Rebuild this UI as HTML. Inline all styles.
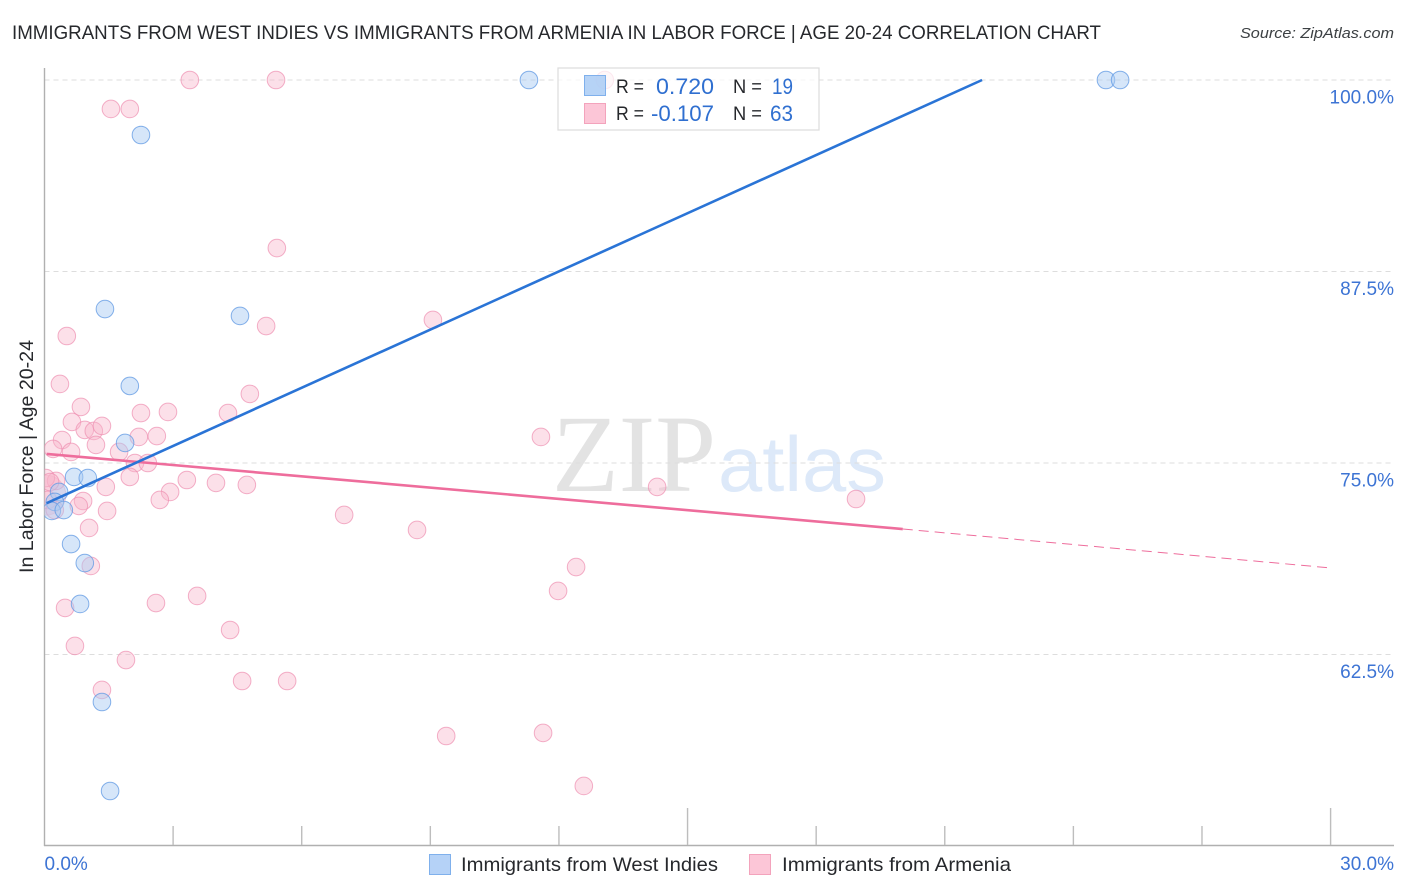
<!DOCTYPE html>
<html lang="en">
<head>
<meta charset="utf-8">
<title>Immigrants from West Indies vs Immigrants from Armenia Correlation Chart</title>
<style>
html,body{margin:0;padding:0;background:#fff;width:1406px;height:892px;overflow:hidden}
svg{display:block;font-family:"Liberation Sans",sans-serif}
</style>
</head>
<body>
<svg id="chart" width="1406" height="892" viewBox="0 0 1406 892" xmlns="http://www.w3.org/2000/svg">
<defs><clipPath id="plot-clip"><rect x="44.5" y="60" width="1350" height="785"/></clipPath></defs>
<text x="12" y="39" font-size="19" fill="#26282c" textLength="1089" lengthAdjust="spacingAndGlyphs">IMMIGRANTS FROM WEST INDIES VS IMMIGRANTS FROM ARMENIA IN LABOR FORCE | AGE 20-24 CORRELATION CHART</text>
<text x="1394" y="38" font-size="15" font-style="italic" fill="#3c4043" text-anchor="end" textLength="154" lengthAdjust="spacingAndGlyphs">Source: ZipAtlas.com</text>
<text x="552" y="491" font-family="'Liberation Serif',serif" font-size="110" fill="#e3e3e3" textLength="164" lengthAdjust="spacingAndGlyphs">ZIP</text>
<text x="718" y="491" font-size="78" fill="#dde9f9" textLength="168" lengthAdjust="spacingAndGlyphs">atlas</text>
<g id="grid"></g>
<g id="axes"></g>
<g id="pink-points" clip-path="url(#plot-clip)"></g>
<g id="blue-points" clip-path="url(#plot-clip)"></g>
<g id="trends"></g>
<text transform="translate(33,573) rotate(-90)" font-size="19" fill="#26282c" textLength="233" lengthAdjust="spacingAndGlyphs">In Labor Force | Age 20-24</text>
<g>
<rect x="558" y="68" width="261" height="62" fill="#fff" fill-opacity="0.72" stroke="#dcdcdc" stroke-width="1.2"/>
<rect x="584.5" y="75.5" width="21" height="20" fill="#a9cbf5" fill-opacity="0.85" stroke="#7fb0ec" stroke-width="1"/>
<rect x="584.5" y="103.5" width="21" height="20" fill="#fcc6d7" stroke="#f3a3bc" stroke-width="1"/>
<text x="616" y="93" font-size="19" fill="#26282c" textLength="28" lengthAdjust="spacingAndGlyphs">R =</text>
<text x="656" y="94" font-size="22" fill="#2f6fd0" textLength="58" lengthAdjust="spacingAndGlyphs">0.720</text>
<text x="733" y="93" font-size="19" fill="#26282c" textLength="29" lengthAdjust="spacingAndGlyphs">N =</text>
<text x="772" y="94" font-size="22" fill="#2f6fd0" textLength="21" lengthAdjust="spacingAndGlyphs">19</text>
<text x="616" y="120" font-size="19" fill="#26282c" textLength="28" lengthAdjust="spacingAndGlyphs">R =</text>
<text x="651" y="121" font-size="22" fill="#2f6fd0" textLength="63" lengthAdjust="spacingAndGlyphs">-0.107</text>
<text x="733" y="120" font-size="19" fill="#26282c" textLength="29" lengthAdjust="spacingAndGlyphs">N =</text>
<text x="770" y="121" font-size="22" fill="#2f6fd0" textLength="23" lengthAdjust="spacingAndGlyphs">63</text>
</g>
<g>
<rect x="429.5" y="854.5" width="21" height="20" fill="#b5d2f7" stroke="#7fb0ec" stroke-width="1"/>
<text x="461" y="871" font-size="19.5" fill="#26282c" textLength="257" lengthAdjust="spacingAndGlyphs">Immigrants from West Indies</text>
<rect x="749.5" y="854.5" width="21" height="20" fill="#fcc6d7" stroke="#f3a3bc" stroke-width="1"/>
<text x="782" y="871" font-size="19.5" fill="#26282c" textLength="229" lengthAdjust="spacingAndGlyphs">Immigrants from Armenia</text>
</g>
</svg>
<script>
const yTickValues = [100, 87.5, 75, 62.5];
const yTickLabels = ["100.0%", "87.5%", "75.0%", "62.5%"];
const xTickValues = [0, 3, 6, 9, 12, 15, 18, 21, 24, 27, 30];
const xMajorTicks = [15, 30];
const xEndValues = [0, 30];
const xEndLabels = ["0.0%", "30.0%"];

const blueX = [11.30, 24.76, 25.09, 2.25, 1.41, 4.56, 1.99, 1.88, 0.69, 1.01, 0.34, 0.24, 0.17, 0.45, 0.62, 0.94, 0.83, 1.34, 1.53];
const blueY = [100, 100, 100, 96.41, 85.05, 84.60, 80.03, 76.31, 74.09, 74.02, 73.11, 72.46, 71.87, 71.93, 69.71, 68.47, 65.80, 59.40, 53.59];

const pinkX = [3.39, 5.40, 13.07, 1.55, 1.99, 5.42, 5.17, 9.06, 0.52, 0.36, 4.79, 0.85, 2.25, 2.88, 4.28, 0.64, 0.94, 1.15, 1.34, 0.41, 0.20, 0.62, 1.20, 1.74, 2.20, 2.62, 11.58, 2.11, 2.41, 1.99, 3.32, 1.43, 4.00, 4.72, 14.29, 2.93, 2.69, 18.93, 0.90, 0.80, 1.46, 6.99, 8.69, 1.04, 1.08, 12.40, 11.98, 3.56, 2.60, 0.48, 4.33, 0.71, 1.90, 1.34, 4.61, 5.66, 9.37, 11.63, 12.58, 0.27, 0.03, 0.13, 0.08, 0.24];
const pinkY = [100, 100, 100, 98.11, 98.11, 89.03, 83.94, 84.34, 83.29, 80.16, 79.51, 78.66, 78.26, 78.33, 78.26, 77.68, 77.16, 77.09, 77.42, 76.50, 75.92, 75.72, 76.18, 75.72, 76.70, 76.76, 76.70, 75.00, 75.00, 74.09, 73.89, 73.44, 73.70, 73.57, 73.44, 73.11, 72.59, 72.65, 72.52, 72.20, 71.87, 71.61, 70.63, 70.76, 68.28, 68.21, 66.65, 66.32, 65.86, 65.54, 64.10, 63.06, 62.14, 60.19, 60.77, 60.77, 57.18, 57.38, 53.92, 73.83, 74.02, 73.76, 72.59, 71.93];
const pinkLargeX = [0.03];
const pinkLargeY = [72.9];

const blueTrendX = [0.05, 21.87];
const blueTrendY = [72.38, 100];
const pinkTrendX = [0.05, 20.02];
const pinkTrendY = [75.59, 70.69];
const pinkForecastX = [20.02, 30];
const pinkForecastY = [70.69, 68.15];

const NS = 'http://www.w3.org/2000/svg';
const sx = v => 44.5 + v * 42.87;
const sy = v => 80 + (100 - v) * 15.32;
function make(parent, tag, attrs, text) {
  const el = document.createElementNS(NS, tag);
  for (const k in attrs) el.setAttribute(k, attrs[k]);
  if (text !== undefined) el.textContent = text;
  document.getElementById(parent).appendChild(el);
  return el;
}

yTickValues.forEach((v, i) => {
  const g = make('grid', 'line', {x1: 44.5, x2: 1394, y1: sy(v), y2: sy(v), stroke: '#dddddd', 'stroke-width': 1, 'stroke-dasharray': '5 4'});
  
  
  const t = make('axes', 'text', {x: 1394, y: sy(v) + 23.5, 'font-size': 19, fill: '#3d74d4', 'text-anchor': 'end'}, yTickLabels[i]);
  
  
});

const yAxis = make('axes', 'line', {x1: 44.5, x2: 44.5, y1: 68, y2: 846, stroke: '#b0b0b0', 'stroke-width': 1.4});


const xAxis = make('axes', 'line', {x1: 44, x2: 1394, y1: 845.5, y2: 845.5, stroke: '#b0b0b0', 'stroke-width': 1.4});



xTickValues.forEach(v => {
  if (v === 0) return;
  const top = xMajorTicks.includes(v) ? 808 : 826;
  const t = make('axes', 'line', {x1: sx(v), x2: sx(v), y1: top, y2: 845, stroke: '#bdbdbd', 'stroke-width': 1.4});
  
  
});

xEndValues.forEach((v, i) => {
  const t = make('axes', 'text', {x: i === 0 ? sx(v) : 1394, y: 870, 'font-size': 19, fill: '#3d74d4', 'text-anchor': i === 0 ? 'start' : 'end'}, xEndLabels[i]);
  
  
});

pinkLargeX.forEach((v, i) => {
  const c = make('pink-points', 'circle', {cx: sx(v), cy: sy(pinkLargeY[i]), r: 20, fill: '#f8b4cb', 'fill-opacity': 0.42, stroke: '#ee9db8', 'stroke-opacity': 0.5, 'stroke-width': 1});
  
  
});
pinkX.forEach((v, i) => {
  const c = make('pink-points', 'circle', {cx: sx(v), cy: sy(pinkY[i]), r: 8.8, fill: '#f8b4cb', 'fill-opacity': 0.42, stroke: '#ee8fb0', 'stroke-opacity': 0.7, 'stroke-width': 1});
  
  
});
blueX.forEach((v, i) => {
  const c = make('blue-points', 'circle', {cx: sx(v), cy: sy(blueY[i]), r: 8.8, fill: '#a9cbf3', 'fill-opacity': 0.48, stroke: '#5f98e3', 'stroke-opacity': 0.75, 'stroke-width': 1});
  
  
});

const fc = make('trends', 'line', {x1: sx(pinkForecastX[0]), y1: sy(pinkForecastY[0]), x2: sx(pinkForecastX[1]), y2: sy(pinkForecastY[1]), stroke: '#ee6d9c', 'stroke-width': 1, 'stroke-dasharray': '10 6'});


const pt = make('trends', 'line', {x1: sx(pinkTrendX[0]), y1: sy(pinkTrendY[0]), x2: sx(pinkTrendX[1]), y2: sy(pinkTrendY[1]), stroke: '#ee6d9c', 'stroke-width': 2.6});


const bt = make('trends', 'line', {x1: sx(blueTrendX[0]), y1: sy(blueTrendY[0]), x2: sx(blueTrendX[1]), y2: sy(blueTrendY[1]), stroke: '#2a74d6', 'stroke-width': 2.6});


</script>
</body>
</html>
